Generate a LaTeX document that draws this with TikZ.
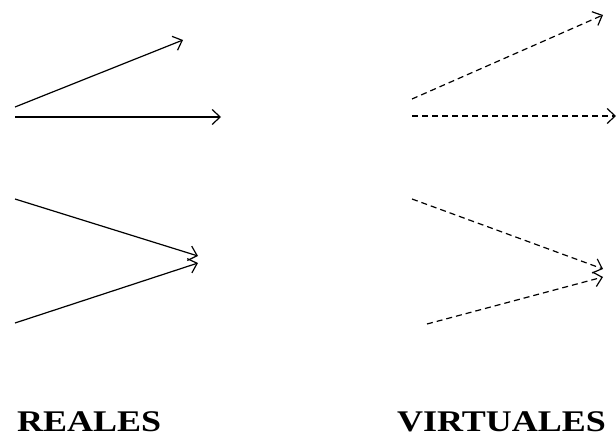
\documentclass[tikz,border=0pt]{standalone}
\usepackage{fontspec}
\usepackage{graphicx}
\setmainfont{Liberation Serif}
\usetikzlibrary{arrows.meta}
\begin{document}
\begin{tikzpicture}[x=1pt,y=-1pt,
  ray/.style={line width=1.2pt,-{Straight Barb[length=8pt,width=15pt,line width=1.2pt]}},
  vray/.style={ray,dash pattern=on 6pt off 4pt},
  lbl/.style={font=\bfseries\fontsize{30}{31}\selectfont,anchor=base west,inner sep=0pt}]
\useasboundingbox (0,0) rectangle (616,436);
% real rays
\coordinate (a1) at (15,107); \coordinate (b1) at (183,40);
\coordinate (a2) at (15,117); \coordinate (b2) at (221,117);
\coordinate (a3) at (15,199); \coordinate (b3) at (198,256);
\coordinate (a4) at (15,323); \coordinate (b4) at (198,263);
\draw[ray] (a1) -- (b1);
\draw[ray] (a2) -- (b2);
\draw[ray] (a3) -- (b3);
\draw[ray] (a4) -- (b4);
% virtual rays
\coordinate (c1) at (412,99); \coordinate (d1) at (603,15);
\coordinate (c2) at (412,116); \coordinate (d2) at (616,116);
\coordinate (c3) at (412,199); \coordinate (d3) at (603,269);
\coordinate (c4) at (427,324); \coordinate (d4) at (603,277);
\draw[vray] (c1) -- (d1);
\draw[vray] (c2) -- (d2);
\draw[vray] (c3) -- (d3);
\draw[vray] (c4) -- (d4);
\node[lbl] (reales) at (17,431) {\scalebox{1.2}[1]{REALES}};
\node[lbl] (virtuales) at (397,431) {\scalebox{1.2}[1]{VIRTUALES}};
\end{tikzpicture}
\end{document}
